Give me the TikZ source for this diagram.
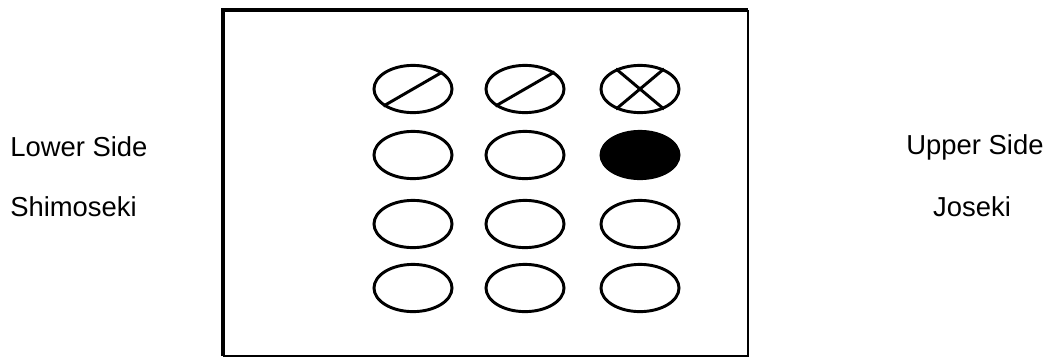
\documentclass[tikz,border=0pt]{standalone}
\usepackage{fontspec}
\setmainfont{Liberation Sans}
\usepackage{tikz}
\usetikzlibrary{shapes.geometric}

\tikzset{
  stone/.style={ellipse, draw, line width=2.1pt, inner sep=0pt,
    minimum width=1.95cm, minimum height=1.18cm},
  side/.style={font=\fontsize{19.5}{22}\selectfont, inner sep=0pt}
}

\begin{document}
\begin{tikzpicture}[x=0.025cm, y=-0.025cm]
  \useasboundingbox (0,0) rectangle (1053,358);
  % frame
  \draw[line width=2.2pt] (748,10) -- (223,10) -- (223,356);
  \draw[line width=0.8pt] (223,356) -- (748,356) -- (748,10);
  % top row
  \node[stone] (s11) at (413,89) {};
  \node[stone] (s12) at (525,89) {};
  \node[stone] (s13) at (640,89) {};
  \draw[line width=2.1pt] (s11.210) -- (s11.30);
  \draw[line width=2.1pt] (s12.210) -- (s12.30);
  \draw[line width=2.1pt] (s13.140) -- (s13.320);
  \draw[line width=2.1pt] (s13.40) -- (s13.220);
  % second row
  \node[stone] (s21) at (413,155) {};
  \node[stone] (s22) at (525,155) {};
  \node[stone, fill=black] (s23) at (640,155) {};
  % third row
  \node[stone] (s31) at (413,224) {};
  \node[stone] (s32) at (525,224) {};
  \node[stone] (s33) at (640,224) {};
  % fourth row
  \node[stone] (s41) at (413,288) {};
  \node[stone] (s42) at (525,288) {};
  \node[stone] (s43) at (640,288) {};
  % labels
  \node[side, anchor=west] (lower) at (10,147) {Lower Side};
  \node[side, anchor=west] (shimo) at (10,207) {Shimoseki};
  \node[side] (upper) at (975,147) {Upper Side};
  \node[side] (jo) at (972,207) {Joseki};
\end{tikzpicture}
\end{document}
